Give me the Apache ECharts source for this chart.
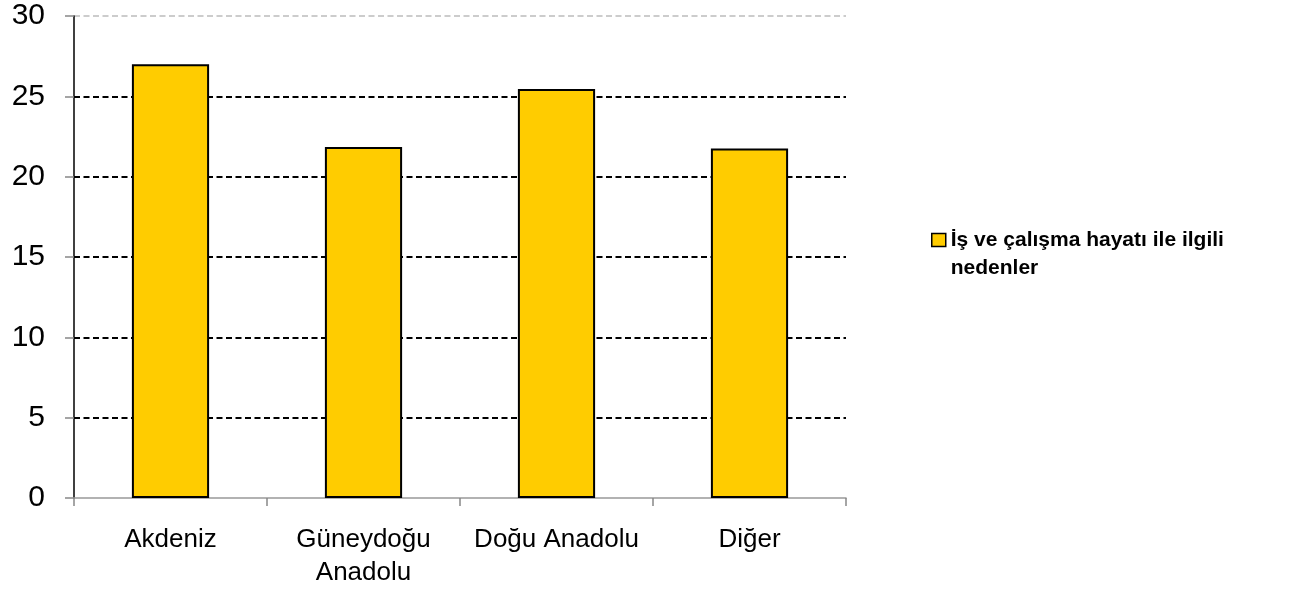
<!DOCTYPE html>
<html>
<head>
<meta charset="utf-8">
<script src="https://cdn.jsdelivr.net/npm/echarts@6/dist/echarts.min.js"></script>
<style>
  html, body { margin: 0; padding: 0; background: #fff; }
  #chart { width: 1306px; height: 589px; }
</style>
</head>
<body>
<div id="chart"></div>
<script>
// bölgeler ve değerler
const categories = ['Akdeniz', 'Güneydoğu\nAnadolu', 'Doğu Anadolu', 'Diğer'];
const values = [27.0, 21.85, 25.45, 21.75];
const seriesName = 'İş ve çalışma hayatı ile ilgili\nnedenler';
const yTicks = [0, 30, 5]; // min, max, interval

const myChart = echarts.init(document.getElementById('chart'));
const option = {
    animation: false,
    textStyle: { fontFamily: 'Liberation Sans, Arial, sans-serif' },
    grid: { left: 74, right: 460, top: 16, bottom: 91, containLabel: false },
    legend: {
        data: [seriesName],
        left: 931,
        top: 226,
        padding: 0,
        orient: 'vertical',
        itemWidth: 14,
        itemHeight: 41,
        itemGap: 6,
        // kare ikonu ilk satırla hizalamak için alt kısmı boş bir yol
        icon: 'path://M0,0 L14,0 L14,13 L0,13 Z M0,41 L0,41',
        textStyle: {
            fontSize: 21,
            fontWeight: 'bold',
            color: '#000',
            lineHeight: 28
        },
        itemStyle: { borderColor: '#000', borderWidth: 1.5 }
    },
    xAxis: {
        type: 'category',
        data: categories,
        axisLine: { lineStyle: { color: '#999', width: 1.5 } },
        axisTick: { show: true, length: 8, interval: 0, alignWithLabel: false, lineStyle: { color: '#888', width: 1.5 } },
        axisLabel: { fontSize: 26, color: '#000', margin: 25, lineHeight: 33, interval: 0 }
    },
    yAxis: {
        type: 'value',
        min: yTicks[0],
        max: yTicks[1],
        interval: yTicks[2],
        axisLine: { show: true, lineStyle: { color: '#000', width: 1.5 } },
        axisTick: { show: true, length: 9, lineStyle: { color: '#888', width: 1.5 } },
        axisLabel: { fontSize: 30, color: '#000', margin: 29 },
        splitLine: {
            show: true,
            lineStyle: {
                color: ['rgba(0,0,0,0)', '#000', '#000', '#000', '#000', '#000', '#ccc'],
                type: [6, 3.5],
                width: 2
            }
        }
    },
    series: [{
        name: seriesName,
        type: 'bar',
        data: values,
        barWidth: '40%',
        itemStyle: { color: '#FFCC00', borderColor: '#000', borderWidth: 2 }
    }]
};
myChart.setOption(option);
</script>
</body>
</html>
